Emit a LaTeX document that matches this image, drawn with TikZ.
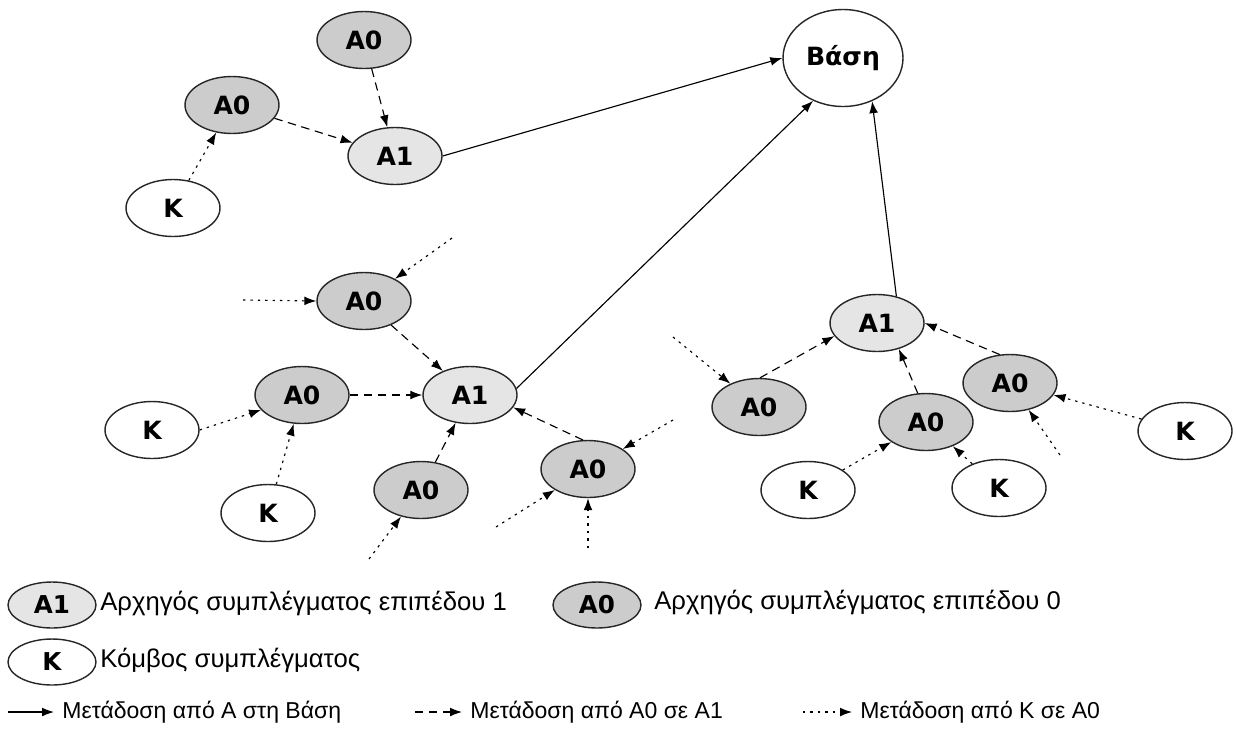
\documentclass[tikz,border=0pt]{standalone}
\usepackage{fontspec}
\setmainfont{Liberation Sans}
\newfontfamily\labelfont{DejaVu Sans}
\usetikzlibrary{arrows.meta,shapes.geometric}

\begin{document}
\begin{tikzpicture}[x=0.02cm,y=-0.02cm,
  every node/.style={inner sep=0pt},
  cnode/.style={ellipse, draw=black!85, line width=0.8pt,
    minimum width=1.88cm, minimum height=1.14cm,
    font=\labelfont\bfseries\fontsize{14.3}{16}\selectfont},
  lvl0/.style={cnode, fill=gray!40},
  lvl1/.style={cnode, fill=gray!20},
  member/.style={cnode, fill=white},
  keysize/.style={minimum width=1.76cm, minimum height=0.92cm,
    font=\labelfont\bfseries\fontsize{14}{16}\selectfont},
  keytext/.style={anchor=west, font=\fontsize{14.6}{18}\selectfont},
  rowtext/.style={anchor=west, font=\fontsize{13.1}{16}\selectfont},
  tip/.style={-{Latex[length=6.8pt,width=5pt]}, line width=0.65pt},
  tobase/.style={tip},
  toAone/.style={tip, dash pattern=on 4.8pt off 3.2pt},
  toAzero/.style={tip, dash pattern=on 1.4pt off 2.8pt},
]
\useasboundingbox (0,0) rectangle (1236,731);

% base station
\node[member, minimum width=2.4cm, minimum height=1.94cm] (base) at (843,58) {Βάση};

% upper-left cluster
\node[lvl0] (ta) at (364,40) {A0};
\node[lvl0] (tb) at (232,105) {A0};
\node[lvl1] (t1) at (395,156) {A1};
\node[member] (tk) at (173,208) {K};

% middle cluster
\node[lvl0] (ma) at (364,301) {A0};
\node[lvl0] (mb) at (302,395) {A0};
\node[lvl1] (m1) at (470,395) {A1};
\node[member] (mk1) at (152,430) {K};
\node[member] (mk2) at (268,513) {K};
\node[lvl0] (mc) at (421,490) {A0};
\node[lvl0] (md) at (588,469) {A0};

% right cluster
\node[lvl1] (r1) at (877,323) {A1};
\node[lvl0] (ra) at (759,407) {A0};
\node[lvl0] (rb) at (926,422) {A0};
\node[lvl0] (rc) at (1010,383) {A0};
\node[member] (rk1) at (808,490) {K};
\node[member] (rk2) at (999,488) {K};
\node[member] (rk3) at (1185,431) {K};

% incoming links from nodes outside the figure
\coordinate (f1) at (452,238);
\coordinate (f2) at (243,300);
\coordinate (f3) at (369,559);
\coordinate (f4) at (496,527);
\coordinate (f5) at (588,548);
\coordinate (f6) at (673,420);
\coordinate (f7) at (673,337);
\coordinate (f8) at (1060,455);

% level-1 heads to the base
\draw[tobase] (t1.east) -- (base.west);
\draw[tobase] (m1.8) -- (base.235);
\draw[tobase] (r1.54) -- (base.304);

% upper-left cluster links
\draw[toAone] (ta) -- (t1);
\draw[toAone] (tb) -- (t1);
\draw[toAzero] (tk) -- (tb);

% middle cluster links
\draw[toAone] (ma) -- (m1);
\draw[toAone] (mb) -- (m1);
\draw[toAone] (mc) -- (m1);
\draw[toAone] (md.100) -- (m1.-16);
\draw[toAzero] (mk1.east) -- (mb.200);
\draw[toAzero] (mk2) -- (mb);
\draw[toAzero] (f1) -- (ma);
\draw[toAzero] (f2) -- (ma.west);
\draw[toAzero] (f3) -- (mc);
\draw[toAzero] (f4) -- (md);
\draw[toAzero] (f5) -- (md.south);
\draw[toAzero] (f6) -- (md);

% right cluster links
\draw[toAone] (ra.88) -- (r1.197);
\draw[toAone] (rb.106) -- (r1.-50);
\draw[toAone] (rc.110) -- (r1.east);
\draw[toAzero] (f7) -- (ra);
\draw[toAzero] (rk1) -- (rb);
\draw[toAzero] (rk2) -- (rb);
\draw[toAzero] (rk3) -- (rc);
\draw[toAzero] (f8) -- (rc);

% key
\node[lvl1, keysize] (k1) at (52,605) {A1};
\node[keytext] (k1t) at (100,603) {Αρχηγός συμπλέγματος επιπέδου 1};
\node[lvl0, keysize] (k0) at (597,605) {A0};
\node[keytext] (k0t) at (654,602) {Αρχηγός συμπλέγματος επιπέδου 0};
\node[member, keysize] (kk) at (52,662) {K};
\node[keytext] (kkt) at (100,660) {Κόμβος συμπλέγματος};

\coordinate (a1) at (8,712);
\coordinate (a2) at (54,712);
\draw[tobase] (a1) -- (a2);
\node[rowtext] (at1) at (62,712) {Μετάδοση από Α στη Βάση};
\coordinate (b1) at (415,712);
\coordinate (b2) at (462,712);
\draw[toAone] (b1) -- (b2);
\node[rowtext] (bt1) at (470,712) {Μετάδοση από Α0 σε Α1};
\coordinate (c1) at (803,712);
\coordinate (c2) at (852,712);
\draw[toAzero] (c1) -- (c2);
\node[rowtext] (ct1) at (860,712) {Μετάδοση από Κ σε Α0};
\end{tikzpicture}
\end{document}
